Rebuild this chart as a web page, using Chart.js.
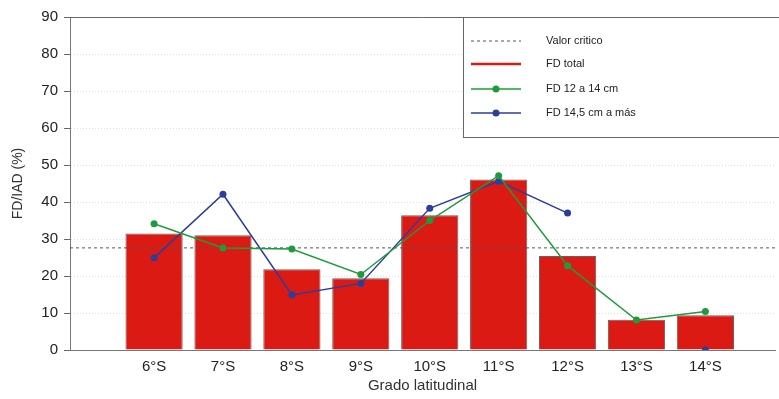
<!DOCTYPE html>
<html lang="es">
<head>
<meta charset="UTF-8">
<title>FD/IAD por grado latitudinal</title>
<script src="https://cdn.jsdelivr.net/npm/chart.js"></script>
<style>
  html, body { margin: 0; padding: 0; background: #fff; }
  #wrap { width: 779px; height: 399px; }
</style>
</head>
<body>
<div id="wrap"><canvas id="chart" width="779" height="399"></canvas></div>
<script>
  // Datos
  const LABELS = ['6°S', '7°S', '8°S', '9°S', '10°S', '11°S', '12°S', '13°S', '14°S'];
  const FD_TOTAL = [31.5, 31.0, 21.8, 19.4, 36.4, 46.1, 25.4, 8.2, 9.4];
  const FD_12_14 = [34.1, 27.6, 27.3, 20.4, 35.0, 47.1, 22.8, 8.1, 10.4];
  const FD_145 = [24.9, 42.1, 14.9, 18.0, 38.3, 45.6, 37.0, null, 0];
  const VALOR_CRITICO = 27.6;
  const Y_TICKS = [0, 10, 20, 30, 40, 50, 60, 70, 80, 90];

  // rango del eje x (posiciones 1..9 para las categorías)
  const X_MIN = -0.22;
  const X_MAX = 10.01;

  const FONT = "'Liberation Sans', Arial, sans-serif";
  const toXY = arr => arr.map((v, i) => ({ x: i + 1, y: v }));

  // Cuadro de leyenda, borde superior y marcas del eje y
  const legendBox = {
    id: 'legendBox',
    afterDraw(chart) {
      const { ctx, chartArea } = chart;
      const yScale = chart.scales.y;
      ctx.save();
      ctx.strokeStyle = '#666';
      ctx.lineWidth = 1;
      ctx.beginPath();
      ctx.moveTo(chartArea.left, chartArea.top + 0.5);
      ctx.lineTo(chartArea.right, chartArea.top + 0.5);
      Y_TICKS.forEach(v => {
        const py = Math.round(yScale.getPixelForValue(v)) + 0.5;
        ctx.moveTo(chartArea.left - 6, py);
        ctx.lineTo(chartArea.left, py);
      });
      ctx.stroke();

      const bx = chartArea.left + 393, by = chartArea.top, bw = 340, bh = 120;
      ctx.fillStyle = '#fff';
      ctx.fillRect(bx, by, bw, bh);
      ctx.strokeStyle = '#666';
      ctx.strokeRect(bx + 0.5, by + 0.5, bw, bh);

      const rows = [24, 47, 72, 96];
      const order = [1, 0, 2, 3];
      order.forEach((dsIndex, r) => {
        const ds = chart.data.datasets[dsIndex];
        const y = by + rows[r];
        ctx.strokeStyle = ds.legendColor || ds.borderColor;
        ctx.lineWidth = ds.legendWidth || ds.borderWidth;
        ctx.setLineDash(ds.borderDash || []);
        ctx.beginPath();
        ctx.moveTo(bx + 8, y);
        ctx.lineTo(bx + 58, y);
        ctx.stroke();
        ctx.setLineDash([]);
        if (ds.pointRadius) {
          ctx.fillStyle = ds.borderColor;
          ctx.beginPath();
          ctx.arc(bx + 33, y, 3.5, 0, Math.PI * 2);
          ctx.fill();
        }
        ctx.fillStyle = '#222';
        ctx.font = '11px ' + FONT;
        ctx.textBaseline = 'middle';
        ctx.fillText(ds.label, bx + 83, y);
      });
      ctx.restore();
    }
  };

  const ctx = document.getElementById('chart').getContext('2d');
  new Chart(ctx, {
    type: 'bar',
    data: {
      datasets: [
        {
          type: 'bar',
          label: 'FD total',
          data: toXY(FD_TOTAL),
          backgroundColor: '#dc1a14',
          borderColor: '#6a5e5e',
          legendColor: '#dc1a14',
          legendWidth: 2.5,
          borderWidth: 1,
          barPercentage: 1,
          categoryPercentage: 0.83,
          order: 4
        },
        {
          type: 'line',
          label: 'Valor critico',
          data: [{ x: X_MIN, y: VALOR_CRITICO }, { x: X_MAX, y: VALOR_CRITICO }],
          borderColor: '#555',
          borderWidth: 1,
          borderDash: [3, 3],
          pointRadius: 0,
          order: 3
        },
        {
          type: 'line',
          label: 'FD 12 a 14 cm',
          data: toXY(FD_12_14),
          borderColor: '#1e9b3c',
          backgroundColor: '#1e9b3c',
          borderWidth: 1.5,
          pointRadius: 3.5,
          pointBorderWidth: 0,
          tension: 0,
          order: 1
        },
        {
          type: 'line',
          label: 'FD 14,5 cm a más',
          data: toXY(FD_145),
          borderColor: '#2c3e9c',
          backgroundColor: '#2c3e9c',
          borderWidth: 1.5,
          pointRadius: 3.5,
          pointBorderWidth: 0,
          spanGaps: false,
          tension: 0,
          order: 2
        }
      ]
    },
    options: {
      responsive: false,
      animation: false,
      layout: { padding: { top: 17, right: 0, left: 0, bottom: 0 } },
      plugins: {
        legend: { display: false },
        tooltip: { enabled: false }
      },
      scales: {
        x: {
          type: 'linear',
          min: X_MIN,
          max: X_MAX,
          offset: false,
          afterBuildTicks: s => { s.ticks = LABELS.map((l, i) => ({ value: i + 1 })); },
          afterFit: s => { s.height = 49; },
          grid: { display: false, drawTicks: false },
          border: { color: '#777', width: 1 },
          ticks: {
            callback: v => LABELS[v - 1],
            color: '#222',
            padding: 8,
            font: { family: FONT, size: 15 }
          },
          title: {
            display: true,
            text: 'Grado latitudinal',
            color: '#333',
            padding: { top: 1 },
            font: { family: FONT, size: 15 }
          }
        },
        y: {
          min: 0,
          max: 90,
          afterBuildTicks: s => { s.ticks = Y_TICKS.map(v => ({ value: v })); },
          afterFit: s => { s.width = 70; },
          grid: {
            color: c => (c.tick.value === 0 || c.tick.value === 90) ? 'rgba(0,0,0,0)' : '#dedede',
            tickColor: '#666',
            tickLength: 6,
            lineWidth: 1
          },
          border: { color: '#777', width: 1, dash: [1, 2] },
          ticks: {
            color: '#222',
            padding: 6,
            font: { family: FONT, size: 15 }
          },
          title: {
            display: true,
            text: 'FD/IAD (%)',
            color: '#333',
            padding: { top: 10, bottom: 4 },
            font: { family: FONT, size: 14 }
          }
        }
      }
    },
    plugins: [legendBox]
  });
</script>
</body>
</html>
